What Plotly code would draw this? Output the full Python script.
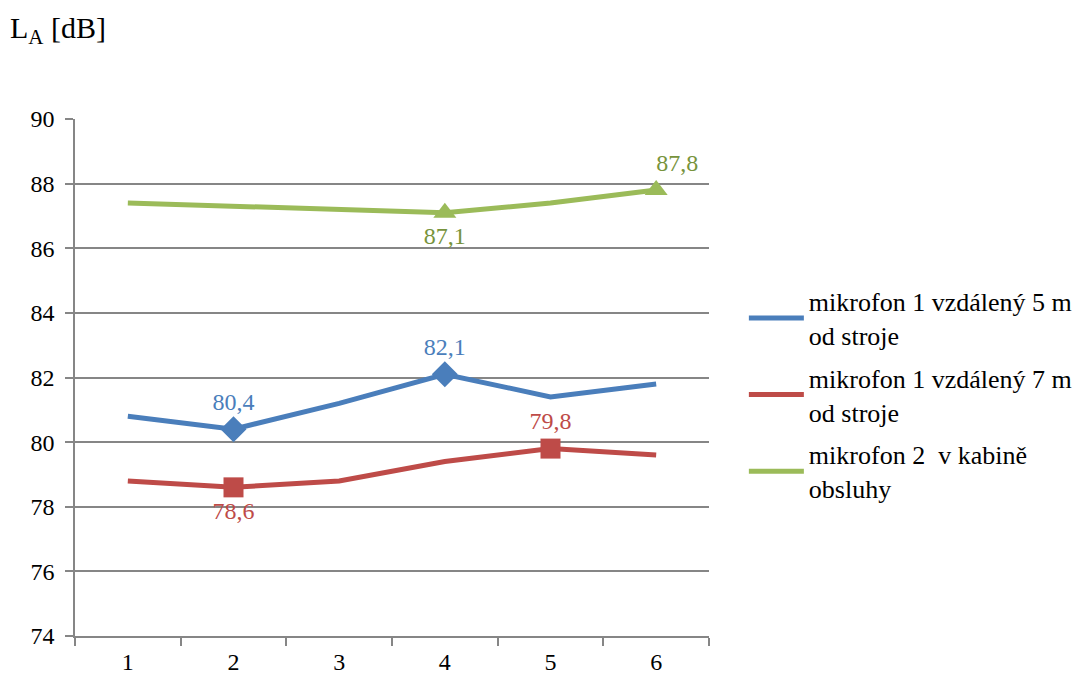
import plotly.graph_objects as go

# Measurement times and A-weighted sound levels
times = ["1", "2", "3", "4", "5", "6"]
mic1_5m = [80.8, 80.4, 81.2, 82.1, 81.4, 81.8]
mic1_7m = [78.8, 78.6, 78.8, 79.4, 79.8, 79.6]
mic2_cab = [87.4, 87.3, 87.2, 87.1, 87.4, 87.8]

names = [
    "mikrofon 1 vzdálený 5 m<br>od stroje",
    "mikrofon 1 vzdálený 7 m<br>od stroje",
    "mikrofon 2  v kabině<br>obsluhy",
]
colors = ["#4A7EBB", "#BE4B48", "#9BBB59"]
label_colors = ["#4A7EBB", "#BE4B48", "#77933C"]

# Points highlighted with a marker and value label:
# (index, label position, leading padding in non-breaking spaces)
highlights = [
    [(1, "top center", 0), (3, "top center", 0)],
    [(1, "bottom center", 0), (4, "top center", 0)],
    [(3, "bottom center", 0), (5, "top center", 7)],
]
symbols = ["diamond", "square", "triangle-up"]

FONT = "Liberation Serif, Times New Roman, serif"

fig = go.Figure()
series = [mic1_5m, mic1_7m, mic2_cab]
for i, (vals, name, col) in enumerate(zip(series, names, colors)):
    fig.add_trace(go.Scatter(
        x=times, y=vals, mode="lines", name=name, legendgroup=f"g{i}",
        line=dict(color=col, width=5),
    ))

for vals, col, lcol, hl, sym in zip(series, colors, label_colors, highlights, symbols):
    for idx, pos, pad in hl:
        label = "\u00a0" * pad + f"{vals[idx]:.1f}".replace(".", ",")
        fig.add_trace(go.Scatter(
            x=[times[idx]], y=[vals[idx]], mode="markers+text",
            marker=dict(symbol=sym, size=20, color=col),
            text=[label],
            textposition=pos,
            textfont=dict(family=FONT, size=24, color=lcol),
            showlegend=False, cliponaxis=False,
        ))

fig.update_layout(
    width=1081, height=675,
    margin=dict(l=75, r=372, t=119, b=39, autoexpand=False),
    plot_bgcolor="white", paper_bgcolor="white",
    font=dict(family=FONT, size=24, color="black"),
    showlegend=True,
    legend=dict(
        x=1.055, y=0.693, xanchor="left", yanchor="top",
        font=dict(family=FONT, size=26, color="black"),
        itemwidth=55, tracegroupgap=6, traceorder="grouped",
        bgcolor="rgba(0,0,0,0)",
    ),
    xaxis=dict(
        type="category", tickson="boundaries", ticks="outside",
        range=[-0.5, 5.5], automargin=False,
        ticklen=8, tickcolor="#868686", tickwidth=1.5,
        showline=True, linecolor="#868686", linewidth=1.5,
        showgrid=False, tickfont=dict(family=FONT, size=24),
        ticklabelstandoff=3,
    ),
    yaxis=dict(
        range=[74, 90], dtick=2, ticks="outside", ticklen=8,
        automargin=False,
        tickcolor="#868686", tickwidth=1.5,
        showline=True, linecolor="#868686", linewidth=1.5,
        showgrid=True, gridcolor="#868686", gridwidth=1.5,
        zeroline=False, tickfont=dict(family=FONT, size=24),
        ticklabelstandoff=6,
    ),
    annotations=[
        dict(text="L<sub>A</sub> [dB]", x=8, y=30, xref="paper", yref="paper",
             showarrow=False, xanchor="left", yanchor="middle",
             font=dict(family=FONT, size=30)),
        dict(text="t <span style='color:#7F7F7F'>[s]</span>", x=752, y=651,
             showarrow=False, xanchor="left", yanchor="middle",
             font=dict(family="Open Sans", size=21, color="black")),
    ],
)
# annotation coordinates above are pixel positions; convert to paper fractions
pw = 1081 - 75 - 372
ph = 675 - 119 - 39
for a in fig.layout.annotations:
    a.x = (a.x - 75) / pw
    a.y = 1 - (a.y - 119) / ph

fig.write_html("out.html")
